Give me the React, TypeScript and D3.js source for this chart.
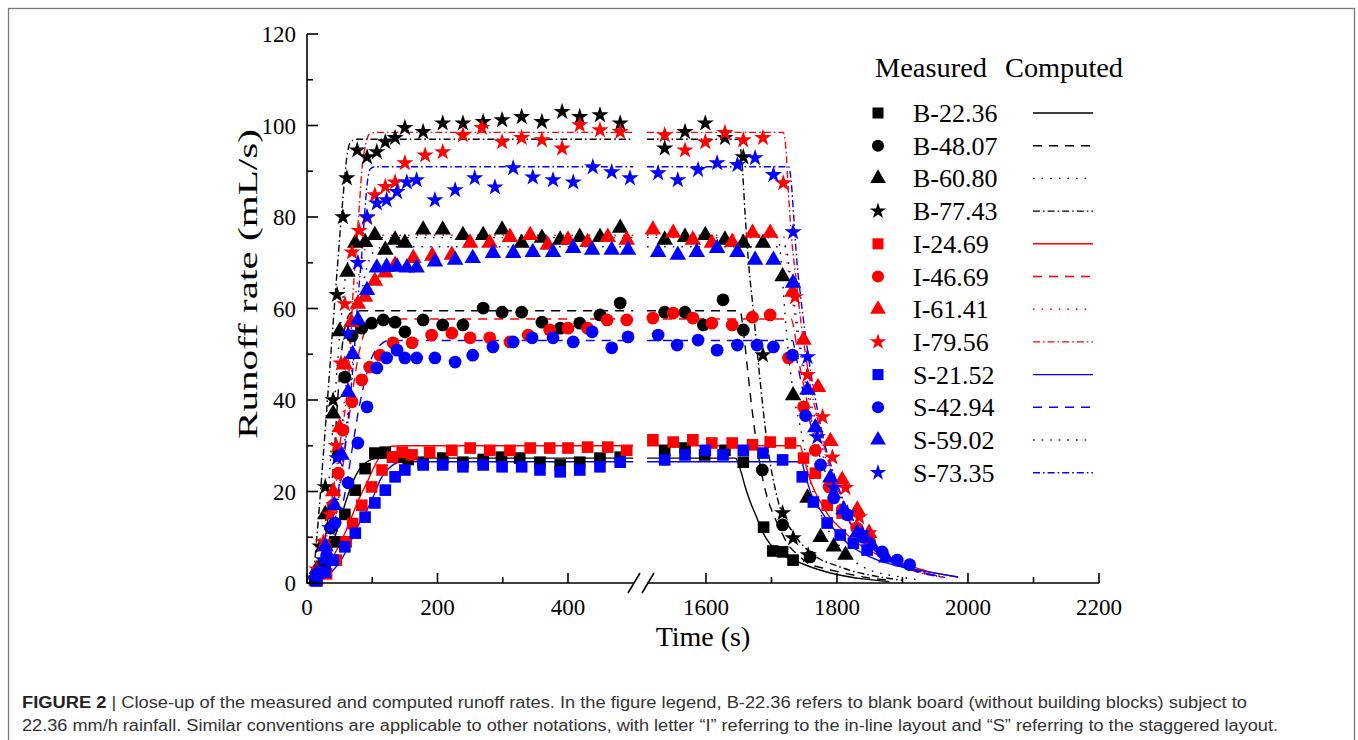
import React from 'react';
import * as d3 from 'd3';

type P = [number, number];

// ---------- Measured data (time s, runoff mL/s) ----------
const B2236_measured: P[] = [[13,0.5],[28,3.3],[43,9],[58,15],[74,20.3],[89,25],[104,28.4],[120,28.6],[138,27.5],[155,27],[178,26.4],[208,27.3],[239,26.4],[270,27],[298,27.5],[326,27.3],[357,26.4],[388,25.8],[418,26.4],[449,27.3],[480,27.5],
  [1537,29],[1568,29.5],[1598,28],[1629,29],[1657,26.4],[1688,12.2],[1702,7],[1717,6.8],[1733,5]];
const B4807_measured: P[] = [[12,1],[24,4],[36,12],[48,28],[58,45],[69,54],[84,55.7],[99,56.8],[117,57.5],[135,57],[150,54.9],[178,57.5],[208,56.4],[239,56.4],[270,60.1],[299,59.2],[329,59.2],[360,57],[388,55.7],[418,56.8],[449,58.6],[480,61.2],
  [1537,59.2],[1568,59.2],[1596,56.4],[1626,61.9],[1657,55.3],[1686,24.7],[1717,12.7],[1759,5.7]];
const B6080_measured: P[] = [[15,3],[28,15],[40,37],[50,55],[62,68],[74,74.3],[89,74.5],[104,76],[120,72.8],[135,75],[150,74.3],[178,77.2],[208,77.2],[239,76],[270,76],[299,77.2],[329,74.3],[360,75.4],[388,75],[418,75.6],[449,75.6],[480,77.6],
  [1537,75],[1568,75.6],[1599,76],[1629,75],[1657,74.3],[1687,74.3],[1717,67],[1733,41],[1755,18.6],[1775,10],[1795,7.9],[1813,6.1]];
const B7743_measured: P[] = [[10,1],[20,8],[28,21],[40,40],[46,63],[55,80],[61,88.5],[77,94.6],[92,93.1],[107,94.2],[120,96.4],[135,97.3],[150,99.5],[178,98.6],[208,100.5],[239,100.5],[270,100.8],[299,101.2],[329,101.9],[360,100.8],[391,103],[418,101.9],[449,102.3],[480,100.5],
  [1537,95],[1568,98.6],[1599,100.5],[1629,97.3],[1657,93.1],[1687,49.8],[1717,15.3],[1733,9.8],[1756,6.1]];
const I2469_measured: P[] = [[15,0.5],[30,2],[45,5],[60,9],[70,13],[84,17],[99,21],[115,24.7],[131,27.5],[146,28.6],[161,28],[188,28.6],[222,29],[250,29.5],[280,29],[311,29],[342,29.5],[372,29.5],[400,29.5],[430,29.7],[461,29.7],[490,29],
  [1519,31.3],[1550,30.8],[1580,31.3],[1609,30.6],[1640,30.6],[1671,30.2],[1698,30.8],[1729,30.6],[1749,27.3],[1767,24],[1785,17],[1808,15.3]];
const I4669_measured: P[] = [[15,2],[28,8],[40,17],[48,24],[55,33.4],[69,39.6],[84,44.4],[96,47.2],[112,49.8],[132,52.5],[161,52.5],[191,54.2],[222,54.6],[250,53.6],[280,53.6],[311,52.7],[339,54.2],[372,55.3],[400,55.7],[430,55.7],[460,57.5],[490,57.5],
  [1519,57.9],[1550,59],[1580,57.9],[1609,56.8],[1640,56.4],[1671,58.1],[1698,58.6],[1726,49.2],[1749,38.5],[1767,29],[1788,21],[1808,16],[1830,12],[1850,9]];
const I6141_measured: P[] = [[15,2],[28,8],[40,20],[50,34],[58,47.7],[68,57],[78,61],[89,62.5],[104,66],[120,67.8],[135,69.5],[163,71],[192,71.5],[222,71.7],[250,74.3],[280,74.3],[311,75.6],[342,76],[369,73.9],[400,75],[430,74.5],[461,75.6],[490,75],
  [1519,77.2],[1550,76.5],[1580,75],[1609,74.3],[1640,74.5],[1671,76.5],[1698,76.5],[1732,63.6],[1749,53.1],[1771,42.8],[1790,31],[1808,22.5],[1831,16],[1849,10.9]];
const I7956_measured: P[] = [[15,3],[25,9],[35,15],[45,30],[52,48],[58,61],[69,72.3],[80,77],[92,79.8],[104,84.8],[120,86.6],[135,87.6],[150,91.8],[181,93.5],[208,94.2],[239,97.9],[268,99.5],[299,96.4],[329,97.3],[360,96.8],[391,95],[418,100.1],[449,99],[480,98.6],
  [1537,97.9],[1568,94.6],[1599,96.4],[1629,98.4],[1657,96.8],[1687,97.3],[1718,87.4],[1736,62.5],[1755,45.5],[1778,36.3],[1793,27.5],[1813,20.8],[1834,14.4],[1849,10.9]];
const S2152_measured: P[] = [[15,0.5],[28,2.4],[40,5],[58,7.9],[74,10.9],[89,14.4],[104,17.5],[120,20.3],[135,23.2],[150,24.7],[178,25.8],[208,25.8],[239,25.4],[270,25.8],[299,25.4],[329,25.4],[357,24.7],[388,24.3],[418,24.7],[449,25.4],[480,26.4],
  [1537,26.9],[1568,28],[1599,29],[1626,28],[1657,29],[1687,28.4],[1717,26.9],[1747,23.2],[1764,17.7],[1785,13.1],[1805,10.5],[1825,8.7],[1846,7.2]];
const S4294_measured: P[] = [[15,2],[30,6],[43,13.1],[63,21.9],[78,30.6],[92,38.5],[107,47],[122,49.2],[138,50.9],[150,49.2],[168,49.2],[196,49.2],[227,48.3],[254,49.8],[285,51.6],[316,52.7],[345,53.6],[377,53.6],[408,52.7],[437,54.9],[467,51.4],[492,53.8],
  [1527,54.2],[1556,52],[1588,53.1],[1617,50.9],[1648,52],[1678,52],[1703,51.6],[1732,49.8],[1752,36.6],[1775,25.8],[1795,18.6],[1816,14.9],[1840,10],[1869,6.8],[1892,5],[1911,4]];
const S5902_measured: P[] = [[15,2],[28,8],[42,17],[53,28],[63,41.7],[70,50],[78,57.5],[92,64],[107,68.9],[122,69.1],[138,69.1],[153,68.9],[168,68.9],[196,70.2],[227,70.6],[254,71],[285,72.1],[316,72.1],[346,72.3],[377,72.3],[408,73.2],[437,72.8],[467,72.8],[492,72.8],
  [1527,72.3],[1557,71.7],[1586,72.3],[1617,73.2],[1648,72.3],[1675,70.6],[1703,70.6],[1733,65.6],[1755,42.2],[1767,34],[1790,23],[1810,16],[1831,11],[1853,8.3],[1875,5.5]];
const S7335_measured: P[] = [[12,1],[25,5],[35,12],[46,27.3],[63,54.6],[78,70],[92,80],[107,83],[122,83.7],[138,85.5],[153,87.6],[168,88.1],[196,83.7],[227,85.9],[257,88.5],[288,86.5],[316,90.7],[346,88.7],[377,88.1],[408,87.6],[438,90.9],[467,89.8],[495,88.5],
  [1527,89.6],[1557,88.1],[1588,90.3],[1617,91.8],[1648,91.4],[1675,92.9],[1703,89.2],[1733,76.7],[1755,49.4],[1770,31.9],[1795,20.8],[1816,15.3],[1839,10.9]];

// ---------- Computed data: rising limb (left panel) and falling limb (right panel) ----------
const B2236_rise: P[] = [[0,0],[10,0.3],[20,1.5],[30,4],[40,8.7],[50,13.5],[60,18],[70,22],[80,24.8],[92,26.5],[105,27.2],[120,27.3],[500,27.3]];
const B2236_fall: P[] = [[1510,27.3],[1645,27.3],[1652,25],[1660,21],[1667,18],[1677,14.5],[1687,11],[1698,8.5],[1709,7],[1725,5.5],[1744,4.4],[1770,3],[1805,1.7],[1840,0.9],[1880,0.3]];
const B4807_rise: P[] = [[0,0],[10,0.5],[20,4],[30,12],[40,25],[48,42],[55,53],[62,58],[70,59.3],[80,59.5],[500,59.5]];
const B4807_fall: P[] = [[1510,59.5],[1652,59.5],[1658,54],[1664,46],[1672,36],[1680,28],[1687,22.5],[1695,18],[1703,15],[1714,11.5],[1724,8.7],[1740,6.2],[1755,4.4],[1780,3.2],[1810,2.2],[1845,1.2],[1880,0.6]];
const B6080_rise: P[] = [[0,0],[10,0.5],[20,4],[30,16],[40,35],[50,54],[58,66],[66,72.5],[75,75],[90,75.5],[500,75.5]];
const B6080_fall: P[] = [[1510,75.5],[1710,75.5],[1715,70],[1720,60],[1726,50],[1733,42],[1747,32],[1759,22.5],[1779,13.8],[1805,7.9],[1840,3.5],[1897,1.3],[1930,0.6]];
const B7743_rise: P[] = [[0,0],[8,0.5],[15,10],[25,28],[35,47],[46,68],[55,84],[61,93],[66,96.2],[75,97],[500,97]];
const B7743_fall: P[] = [[1510,97],[1650,97],[1655,92],[1660,80],[1665,70],[1672,60],[1680,48],[1694,30],[1710,18],[1733,11],[1760,6.6],[1805,3.5],[1866,1.3],[1900,0.6]];
const I2469_rise: P[] = [[0,0],[10,0.2],[20,1],[30,3],[40,5.7],[50,8.5],[60,11.5],[70,15],[80,18.5],[92,22],[105,26],[117,28.8],[130,29.9],[145,30],[500,30]];
const I2469_fall: P[] = [[1510,30],[1744,30],[1748,28],[1753,25.5],[1759,22.5],[1768,19.5],[1779,16.6],[1790,14.2],[1805,12],[1820,10],[1840,7.9],[1865,6],[1897,4.4],[1940,2.5],[1985,1.3]];
const I4669_rise: P[] = [[0,0],[10,0.3],[20,1.5],[30,5],[40,11],[50,20],[60,31],[70,42],[80,50.5],[90,55.5],[100,57.2],[115,57.7],[500,57.7]];
const I4669_fall: P[] = [[1510,57.7],[1730,57.7],[1735,55],[1740,50],[1748,44],[1758,37.5],[1770,31],[1783,25],[1798,19.5],[1815,14.5],[1835,10.5],[1860,7],[1890,4.3],[1925,2.5],[1960,1.3]];
const I6141_rise: P[] = [[0,0],[10,0.3],[20,2],[30,7],[40,16],[50,29],[60,44],[70,58],[80,68],[90,73.5],[100,75.5],[115,76],[500,76]];
const I6141_fall: P[] = [[1510,76],[1718,76],[1724,70],[1732,62],[1740,54],[1750,45],[1760,38],[1772,31],[1785,25],[1800,19.5],[1820,14],[1845,9],[1875,5.5],[1910,3],[1950,1.5]];
const I7956_rise: P[] = [[0,0],[10,0.5],[20,3],[30,10],[40,20],[50,30],[60,40],[66,50],[70,62],[75,72],[80,82],[84,90],[90,96],[97,98.3],[110,98.5],[500,98.5]];
const I7956_fall: P[] = [[1510,98.5],[1718,98.5],[1722,95],[1726,85],[1731,75],[1738,66],[1745,57],[1752,50],[1760,43],[1770,36],[1782,29],[1795,23],[1810,17.5],[1830,12],[1855,7.5],[1885,4.5],[1920,2.5],[1960,1.3]];
const S2152_rise: P[] = [[0,0],[10,0.1],[20,0.5],[30,1.5],[40,2.8],[50,4.5],[60,7],[70,10],[80,13],[92,16],[102,19],[112,22.5],[125,25],[142,26.4],[160,26.5],[500,26.5]];
const S2152_fall: P[] = [[1510,26.5],[1746,26.5],[1750,24.5],[1755,22],[1760,19.7],[1770,17],[1785,13.8],[1800,11],[1816,8.7],[1838,6.6],[1862,5],[1900,3.5],[1948,2.2],[1985,1.3]];
const S4294_rise: P[] = [[0,0],[10,0.2],[20,1],[30,3.5],[40,8],[50,14],[60,21],[70,30],[80,38.5],[90,45],[100,49.5],[112,52],[125,53],[500,53]];
const S4294_fall: P[] = [[1510,53],[1732,53],[1737,50],[1743,45.5],[1751,40],[1761,34],[1773,28],[1786,22.8],[1801,18],[1818,13.5],[1838,9.8],[1862,6.6],[1892,4.1],[1927,2.4],[1965,1.2]];
const S5902_rise: P[] = [[0,0],[10,0.2],[20,1.2],[30,4.5],[40,11],[50,21],[60,34],[70,48],[80,60],[90,68],[100,72],[112,73.3],[125,73.5],[500,73.5]];
const S5902_fall: P[] = [[1510,73.5],[1722,73.5],[1728,68],[1736,60],[1745,51],[1755,43],[1766,36],[1778,29.5],[1792,23.5],[1808,18],[1828,13],[1852,8.5],[1880,5.3],[1915,3],[1955,1.5]];
const S7335_rise: P[] = [[0,0],[10,0.3],[20,2],[30,7],[40,14],[50,22],[60,32],[66,40],[72,50],[78,62],[84,72],[88,80],[92,87],[97,90.5],[105,91],[500,91]];
const S7335_fall: P[] = [[1510,91],[1726,91],[1730,88],[1734,80],[1739,70],[1745,62],[1752,54],[1760,46],[1770,38],[1782,30],[1795,24],[1810,18],[1830,12.5],[1855,8],[1885,5],[1920,2.8],[1960,1.4]];

const seriesNames = ['B-22.36','B-48.07','B-60.80','B-77.43','I-24.69','I-46.69','I-61.41','I-79.56','S-21.52','S-42.94','S-59.02','S-73.35'];
const measuredData = [B2236_measured,B4807_measured,B6080_measured,B7743_measured,I2469_measured,I4669_measured,I6141_measured,I7956_measured,S2152_measured,S4294_measured,S5902_measured,S7335_measured];
const riseData = [B2236_rise,B4807_rise,B6080_rise,B7743_rise,I2469_rise,I4669_rise,I6141_rise,I7956_rise,S2152_rise,S4294_rise,S5902_rise,S7335_rise];
const fallData = [B2236_fall,B4807_fall,B6080_fall,B7743_fall,I2469_fall,I4669_fall,I6141_fall,I7956_fall,S2152_fall,S4294_fall,S5902_fall,S7335_fall];

const yTicks = [0,20,40,60,80,100,120];
const yMinorTicks = [10,30,50,70,90,110];
const xLeftTicks = [0,200,400];
const xLeftMinor = [100,300];
const xRightTicks = [1600,1800,2000,2200];
const xRightMinor = [1700,1900,2100];

// ---------- styles ----------
const groupColors = ['#000000','#ff0000','#0000ff'];
const symbolTypes = [d3.symbolSquare, d3.symbolCircle, d3.symbolTriangle, d3.symbolStar];
const symbolSizes = [135, 128, 118, 92];
const dashes = ['none', '9,7', '1.6,7', '7,3,1.6,3'];

const SERIF = '"Liberation Serif", "Times New Roman", serif';
const SANS = '"Liberation Sans", Arial, Helvetica, sans-serif';

export default function App() {
  const y = d3.scaleLinear().domain([0, 120]).range([583, 34]);
  const xL = d3.scaleLinear().domain([0, 500]).range([307, 633.25]);
  const xR = d3.scaleLinear().domain([1510, 2200]).range([647, 1099]);
  const xf = (t: number) => (t <= 1000 ? xL(t) : xR(t));

  const line = d3.line<P>().x(d => xf(d[0])).y(d => y(d[1])).curve(d3.curveMonotoneX);

  const axisY = y(0);
  const legendY0 = 113;
  const legendDy = 32.7;

  return (
    <svg width={1358} height={740} style={{ position: 'fixed', left: 0, top: 0, background: '#fff' }}>
      <rect x={0} y={0} width={1358} height={740} fill="#fff" />
      <rect x={8.5} y={8.5} width={1346} height={780} fill="none" stroke="#777" strokeWidth={1.3} />

      {/* computed lines */}
      <g fill="none" strokeWidth={1.4}>
        {seriesNames.map((n, i) => (
          <g key={n} stroke={groupColors[Math.floor(i / 4)]} strokeDasharray={dashes[i % 4]}>
            <path d={line(riseData[i]) || ''} />
            <path d={line(fallData[i]) || ''} />
          </g>
        ))}
      </g>

      {/* measured markers */}
      {seriesNames.map((n, i) => {
        const sym = d3.symbol().type(symbolTypes[i % 4]).size(symbolSizes[i % 4]);
        const dpath = sym() || '';
        return (
          <g key={n} fill={groupColors[Math.floor(i / 4)]}>
            {measuredData[i].map((d, k) => (
              <path key={k} d={dpath} transform={`translate(${xf(d[0])},${y(d[1])})`} />
            ))}
          </g>
        );
      })}

      {/* axes */}
      <g stroke="#000" strokeWidth={1.6} fill="none">
        <line x1={307} y1={y(120)} x2={307} y2={axisY} />
        <line x1={306.2} y1={axisY} x2={xL(500)} y2={axisY} />
        <line x1={xR(1510)} y1={axisY} x2={xR(2200)} y2={axisY} />
        <line x1={628} y1={593} x2={640} y2={573} />
        <line x1={642} y1={593} x2={654} y2={573} />
        {yTicks.map(v => <line key={'yt' + v} x1={307} x2={318} y1={y(v)} y2={y(v)} />)}
        {yMinorTicks.map(v => <line key={'ym' + v} x1={307} x2={313} y1={y(v)} y2={y(v)} />)}
        {xLeftTicks.map(v => <line key={'xl' + v} x1={xL(v)} x2={xL(v)} y1={axisY} y2={axisY - 10} />)}
        {xLeftMinor.map(v => <line key={'xlm' + v} x1={xL(v)} x2={xL(v)} y1={axisY} y2={axisY - 6} />)}
        {xRightTicks.map(v => <line key={'xr' + v} x1={xR(v)} x2={xR(v)} y1={axisY} y2={axisY - 10} />)}
        {xRightMinor.map(v => <line key={'xrm' + v} x1={xR(v)} x2={xR(v)} y1={axisY} y2={axisY - 6} />)}
      </g>

      <g fontFamily={SERIF} fontSize={23} fill="#000">
        {yTicks.map(v => (
          <text key={'yl' + v} x={296} y={y(v) + 8} textAnchor="end">{v}</text>
        ))}
        {xLeftTicks.map(v => (
          <text key={'xll' + v} x={xL(v)} y={615} textAnchor="middle">{v}</text>
        ))}
        {xRightTicks.map(v => (
          <text key={'xrl' + v} x={xR(v)} y={615} textAnchor="middle">{v}</text>
        ))}
      </g>

      <text x={703} y={646} textAnchor="middle" fontFamily={SERIF} fontSize={28}>Time (s)</text>
      <text transform="translate(257,284) rotate(-90)" textAnchor="middle" fontFamily={SERIF} fontSize={28}
        textLength={310} lengthAdjust="spacingAndGlyphs">Runoff rate (mL/s)</text>

      {/* legend */}
      <g fontFamily={SERIF} fill="#000">
        <text x={875} y={77} fontSize={28} textLength={112} lengthAdjust="spacingAndGlyphs">Measured</text>
        <text x={1005} y={77} fontSize={28} textLength={118} lengthAdjust="spacingAndGlyphs">Computed</text>
        {seriesNames.map((n, i) => {
          const cy = legendY0 + i * legendDy;
          const col = groupColors[Math.floor(i / 4)];
          const sym = d3.symbol().type(symbolTypes[i % 4]).size(symbolSizes[i % 4] * 0.9);
          return (
            <g key={'lg' + n}>
              <path d={sym() || ''} transform={`translate(878,${cy})`} fill={col} />
              <text x={913} y={cy + 9} fontSize={26}>{n}</text>
              <line x1={1033} x2={1093} y1={cy} y2={cy} stroke={col} strokeWidth={1.4} strokeDasharray={dashes[i % 4]} />
            </g>
          );
        })}
      </g>

      {/* caption */}
      <g fontFamily={SANS} fontSize={16} fill="#333">
        <text x={22} y={708} textLength={1225} lengthAdjust="spacingAndGlyphs">
          <tspan fontWeight="bold" fill="#222">FIGURE 2</tspan>
          <tspan> | Close-up of the measured and computed runoff rates. In the figure legend, B-22.36 refers to blank board (without building blocks) subject to</tspan>
        </text>
        <text x={22} y={731} textLength={1256} lengthAdjust="spacingAndGlyphs">
          22.36 mm/h rainfall. Similar conventions are applicable to other notations, with letter “I” referring to the in-line layout and “S” referring to the staggered layout.
        </text>
      </g>
    </svg>
  );
}
